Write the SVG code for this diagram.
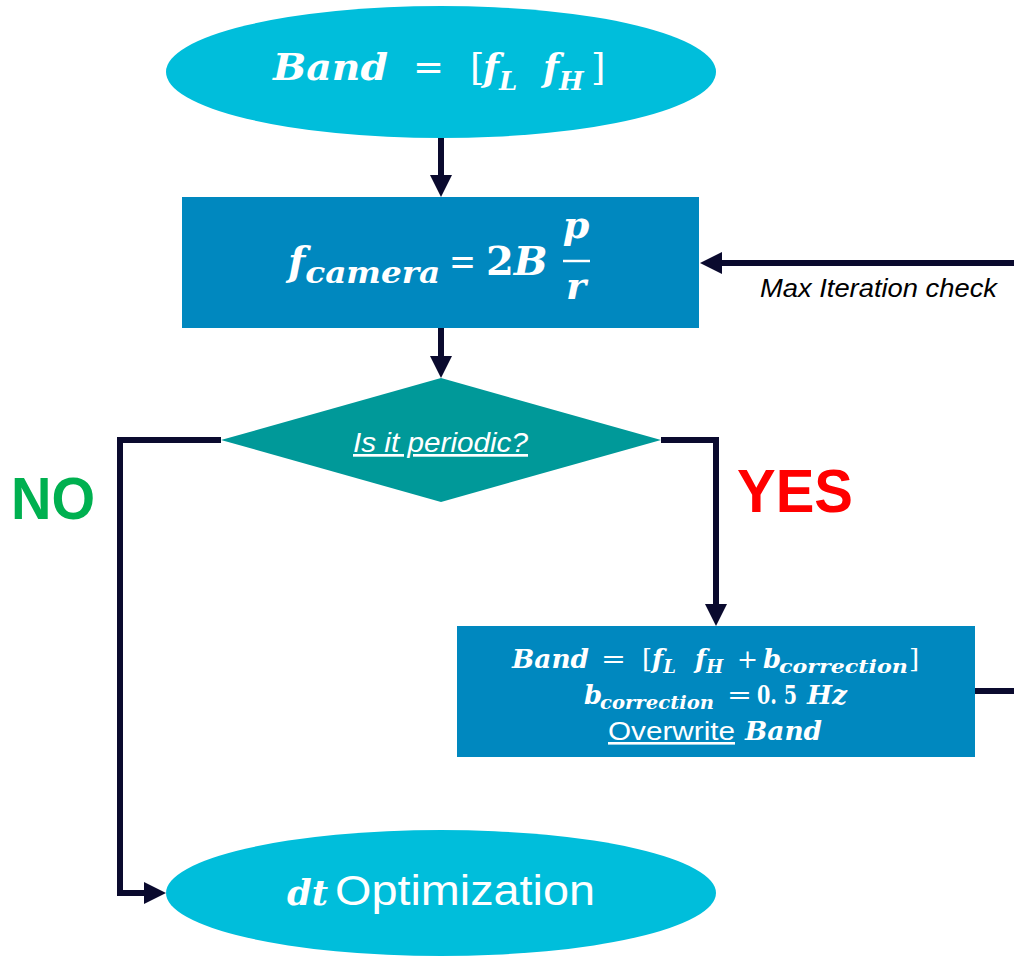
<svg xmlns="http://www.w3.org/2000/svg" width="1014" height="958" viewBox="0 0 1014 958">
<style>
.m{font-family:"DejaVu Serif","Liberation Serif",serif;font-weight:bold;font-style:italic;fill:#fff}
.u{font-style:normal;font-weight:normal}
.s{font-family:"Liberation Sans",Arial,sans-serif;fill:#fff}
.ln{fill:none;stroke:#0a0a2e;stroke-width:6}
</style>
<defs>
<marker id="ah" markerUnits="userSpaceOnUse" markerWidth="24" markerHeight="24" refX="10" refY="11" orient="auto">
<path d="M0,0 L22,11 L0,22 z" fill="#0a0a2e"/>
</marker>
</defs>
<rect width="1014" height="958" fill="#fff"/>
<g id="connectors">
<path class="ln" d="M441,137 V185" marker-end="url(#ah)"/>
<path class="ln" d="M441,328 V366" marker-end="url(#ah)"/>
<path class="ln" d="M221,440 H120 V893 H154" marker-end="url(#ah)"/>
<path class="ln" d="M661,440 H716 V614" marker-end="url(#ah)"/>
<path class="ln" d="M975,691 H1024 V263 H712" marker-end="url(#ah)"/>
<text x="760" y="297" font-family="Liberation Sans, Arial, sans-serif" font-style="italic" font-size="26" fill="#000" textLength="237" lengthAdjust="spacingAndGlyphs">Max Iteration check</text>
<text x="11" y="519" font-family="Liberation Sans, Arial, sans-serif" font-weight="bold" font-size="60" fill="#00b050" textLength="84" lengthAdjust="spacingAndGlyphs">NO</text>
<text x="737" y="512" font-family="Liberation Sans, Arial, sans-serif" font-weight="bold" font-size="62" fill="#ff0000" textLength="116" lengthAdjust="spacingAndGlyphs">YES</text>
</g>
<g id="start">
<ellipse cx="441" cy="72" rx="275" ry="66" fill="#00bedb"/>
<text class="m" y="80" font-size="37"><tspan x="273" textLength="115" lengthAdjust="spacingAndGlyphs">Band</tspan><tspan x="413" class="u">=</tspan><tspan x="470" class="u">[</tspan><tspan x="483">f</tspan><tspan font-size="26" dy="10">L</tspan><tspan x="543" dy="-10">f</tspan><tspan font-size="26" dy="10">H</tspan><tspan class="u" x="591" dy="-10">]</tspan></text>
</g>
<g id="fcamera">
<rect x="182" y="197" width="517" height="131" fill="#0088bf"/>
<text class="m" x="288" y="275" font-size="40">f<tspan font-size="30" dy="8" textLength="135" lengthAdjust="spacingAndGlyphs">camera</tspan></text>
<text class="m" y="275" font-size="40"><tspan class="u" x="449" textLength="27" lengthAdjust="spacingAndGlyphs">=</tspan><tspan x="486" font-style="normal">2</tspan>B</text>
<text class="m" x="576" y="238" font-size="38" text-anchor="middle">p</text>
<line x1="563" y1="261" x2="590" y2="261" stroke="#fff" stroke-width="2.5"/>
<text class="m" x="576" y="299" font-size="38" text-anchor="middle">r</text>
</g>
<g id="decision">
<polygon points="441,378 661,440 441,502 221,440" fill="#009999"/>
<text class="s" x="353" y="452" font-size="27" font-style="italic" text-decoration="underline" textLength="175" lengthAdjust="spacingAndGlyphs">Is it periodic?</text>
</g>
<g id="correction">
<rect x="457" y="626" width="518" height="131" fill="#0088bf"/>
<text class="m" y="668" font-size="26"><tspan x="512" textLength="77" lengthAdjust="spacingAndGlyphs">Band</tspan><tspan class="u" x="601" textLength="25" lengthAdjust="spacingAndGlyphs">=</tspan><tspan class="u" x="642">[</tspan><tspan x="652">f</tspan><tspan font-size="18" dy="5">L</tspan><tspan x="695" dy="-5">f</tspan><tspan font-size="18" dy="5">H</tspan><tspan class="u" x="737" dy="-5" textLength="21" lengthAdjust="spacingAndGlyphs">+</tspan><tspan x="763">b</tspan><tspan font-size="19" x="779" dy="5" textLength="129" lengthAdjust="spacingAndGlyphs">correction</tspan><tspan class="u" x="909" dy="-5">]</tspan></text>
<text class="m" y="704" font-size="26"><tspan x="584">b</tspan><tspan font-size="19" x="600" dy="5" textLength="114" lengthAdjust="spacingAndGlyphs">correction</tspan><tspan class="u" x="727" dy="-5" textLength="25" lengthAdjust="spacingAndGlyphs">=</tspan><tspan font-style="normal" x="757" textLength="40" lengthAdjust="spacingAndGlyphs">0. 5</tspan><tspan x="807" textLength="40" lengthAdjust="spacingAndGlyphs">Hz</tspan></text>
<text x="608" y="740" font-size="26"><tspan class="s" text-decoration="underline" textLength="127" lengthAdjust="spacingAndGlyphs">Overwrite</tspan><tspan class="m" x="745" textLength="77" lengthAdjust="spacingAndGlyphs">Band</tspan></text>
</g>
<g id="end">
<ellipse cx="441" cy="893" rx="275" ry="63" fill="#00bedb"/>
<text x="287" y="905" font-size="40"><tspan font-family="DejaVu Serif, serif" font-style="italic" font-weight="bold" font-size="36" fill="#fff" textLength="41" lengthAdjust="spacingAndGlyphs">dt</tspan><tspan class="s" x="335" font-size="42" textLength="260" lengthAdjust="spacingAndGlyphs">Optimization</tspan></text>
</g>
</svg>
